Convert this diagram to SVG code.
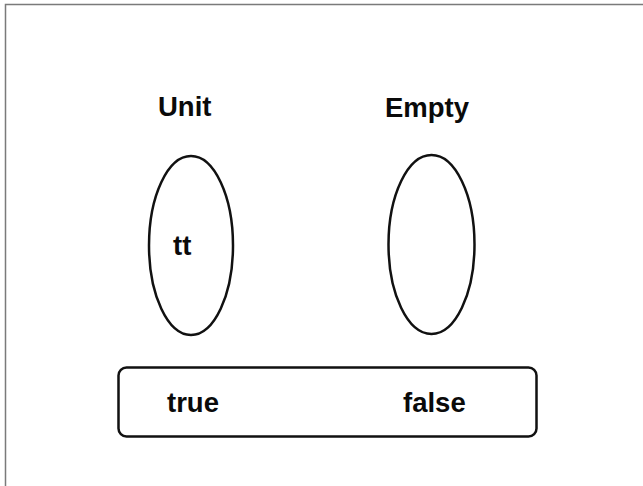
<svg xmlns="http://www.w3.org/2000/svg" width="643" height="486" viewBox="0 0 643 486">
<style>
.lbl{font-family:"Liberation Sans",Arial,sans-serif;font-weight:bold;font-size:27.5px;fill:#0a0a0a}
.shape{fill:none;stroke:#111;stroke-width:2.5}
.frame{fill:none;stroke:#7a7a7a;stroke-width:1.5}
</style>
<rect width="643" height="486" fill="#fff"/>
<path class="frame" d="M5.5 486 V4.5 H643"/>
<g id="unit">
<ellipse class="shape" cx="191" cy="245.5" rx="42" ry="89.5"/>
<text class="lbl" x="158" y="116">Unit</text>
<text class="lbl" x="173" y="255">tt</text>
</g>
<g id="empty">
<ellipse class="shape" cx="431.5" cy="244.5" rx="43" ry="89.5"/>
<text class="lbl" x="385" y="117">Empty</text>
</g>
<g id="bool">
<rect class="shape" x="118.5" y="367.5" width="418" height="69" rx="8"/>
<text class="lbl" x="167" y="412">true</text>
<text class="lbl" x="403" y="412">false</text>
</g>
<g id="connectors"></g>
</svg>
